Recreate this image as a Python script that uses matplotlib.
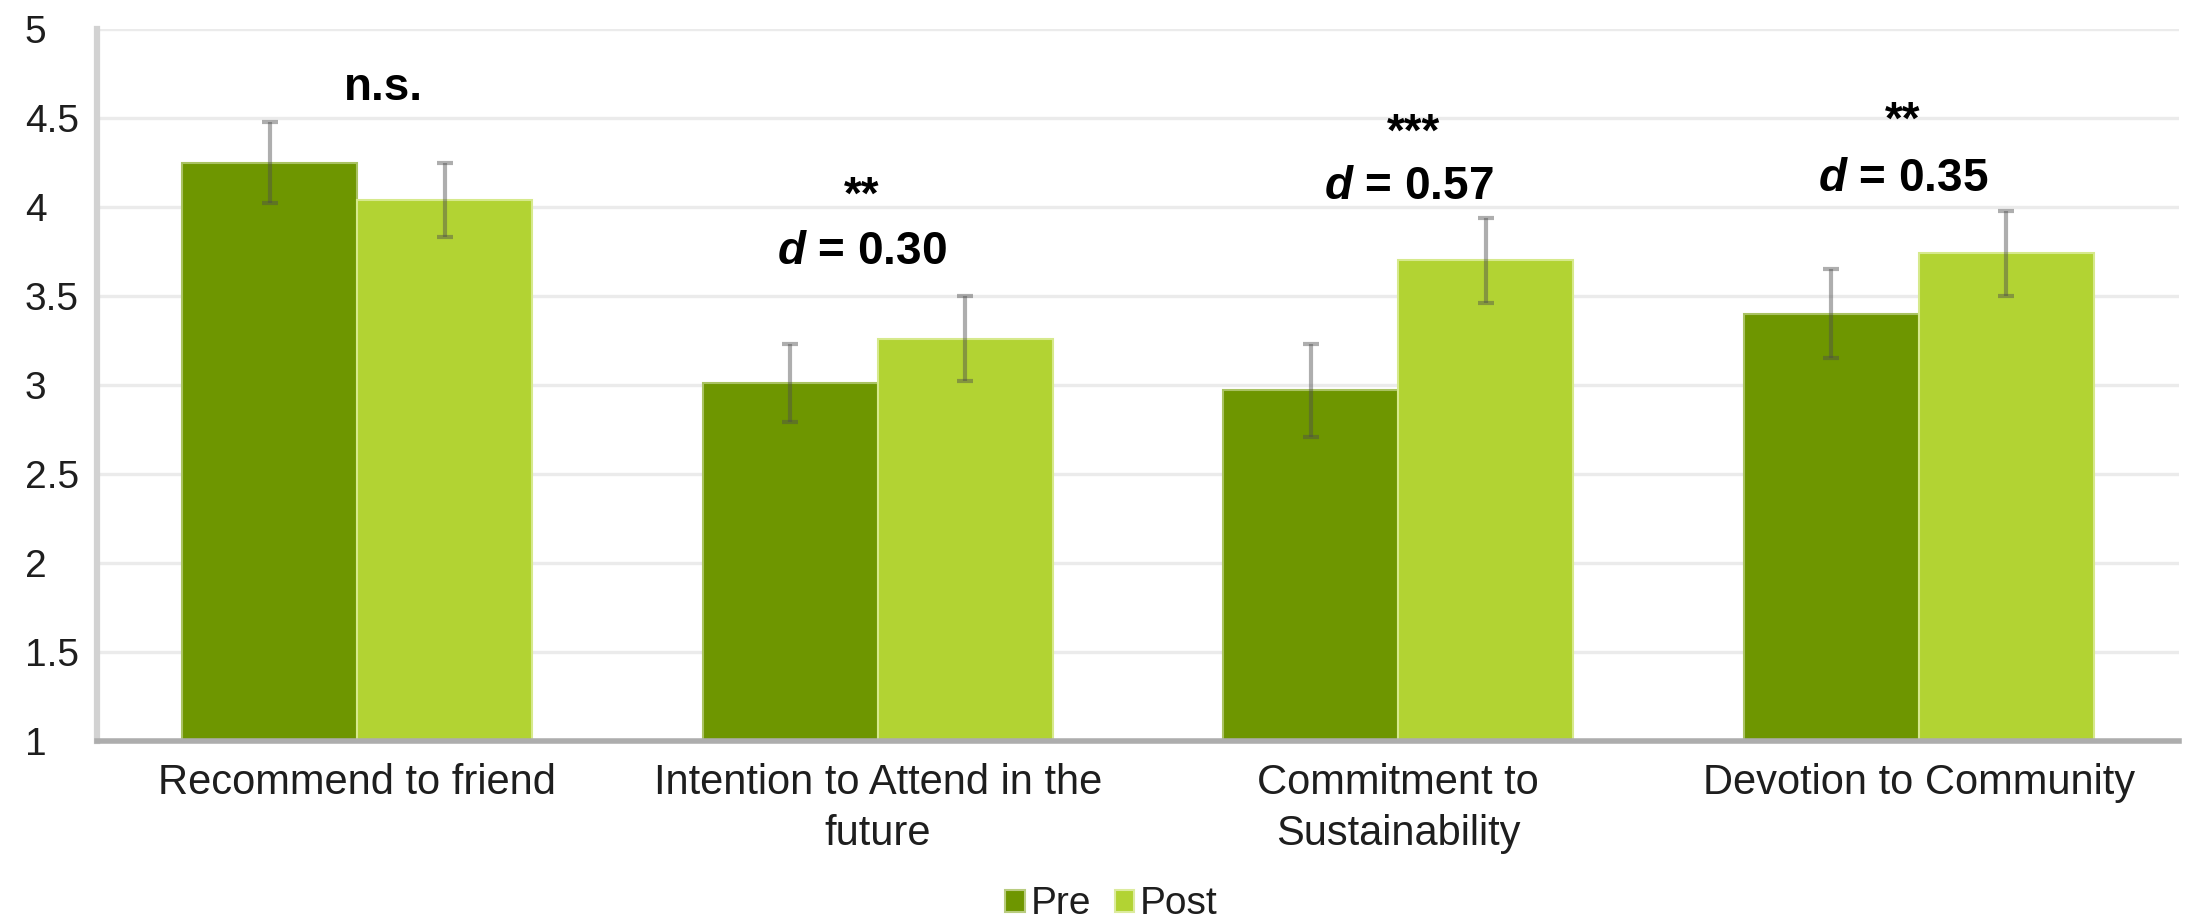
import matplotlib
matplotlib.use("Agg")
import matplotlib.pyplot as plt
from matplotlib.patches import Patch
import numpy as np

categories = ["Recommend to friend", "Intention to Attend in the\nfuture",
              "Commitment to\nSustainability", "Devotion to Community"]
pre = [4.25, 3.01, 2.97, 3.40]
post = [4.04, 3.26, 3.70, 3.74]
pre_err = [0.23, 0.22, 0.26, 0.25]
post_err = [0.21, 0.24, 0.24, 0.24]

# significance stars and effect sizes per category
stars = ["n.s.", "**", "***", "**"]
effects = [None, "0.30", "0.57", "0.35"]

pre_color = "#6E9600"
post_color = "#B2D333"

plt.rcParams["font.family"] = ["Liberation Sans", "DejaVu Sans"]
plt.rcParams["mathtext.fontset"] = "custom"
plt.rcParams["mathtext.bfit"] = "Liberation Sans:italic:bold"
plt.rcParams["mathtext.bf"] = "Liberation Sans:bold"
plt.rcParams["mathtext.rm"] = "Liberation Sans"

fig = plt.figure(figsize=(21.88, 9.22), dpi=100)
ax = fig.add_axes([0.0443, 0.1963, 0.9516, 0.7722])

x = np.arange(len(categories))
w = 0.336

ax.bar(x - w / 2, pre, w, bottom=0, color=pre_color, edgecolor="#A9C262",
       linewidth=1.5, zorder=2)
ax.bar(x + w / 2, post, w, bottom=0, color=post_color, edgecolor="#D6E98C",
       linewidth=1.5, zorder=2)
err_kw = dict(fmt="none", ecolor=(0.3, 0.3, 0.3, 0.45), elinewidth=3,
              capsize=5.5, capthick=3, zorder=3)
ax.errorbar(x - w / 2, pre, yerr=pre_err, **err_kw)
ax.errorbar(x + w / 2, post, yerr=post_err, **err_kw)

ax.set_xlim(-0.5, 3.5)
ax.set_ylim(1, 5)
ax.set_yticks(np.arange(1, 5.01, 0.5))
ax.set_yticklabels(["1", "1.5", "2", "2.5", "3", "3.5", "4", "4.5", "5"])
ax.yaxis.grid(True, color="#EBEBEB", linewidth=2.4, zorder=0)
ax.set_axisbelow(True)
ax.set_xticks(x)
ax.set_xticklabels(categories, linespacing=1.35)

ax.tick_params(axis="y", length=0, pad=52, labelsize=28, labelcolor="#1E1E1E")
ax.tick_params(axis="x", length=0, pad=16, labelsize=30, labelcolor="#1E1E1E")
for lbl in ax.get_yticklabels():
    lbl.set_ha("left")

for s in ["top", "right"]:
    ax.spines[s].set_visible(False)
ax.spines["left"].set_color("#D2D2D2")
ax.spines["left"].set_linewidth(4.5)
ax.spines["bottom"].set_color("#ADADAD")
ax.spines["bottom"].set_linewidth(4)

# annotations above each group
star_pos = [(0.05, 4.67), (0.97, 4.06), (2.03, 4.41), (2.97, 4.48)]
eff_pos = [None, (0.97, 3.75), (2.02, 4.11), (2.97, 4.16)]
for i in range(len(categories)):
    sx, sy = star_pos[i]
    ax.text(sx, sy, stars[i], ha="center", va="center", fontsize=33,
            fontweight="bold", color="black", zorder=4)
    if effects[i] is not None:
        ex, ey = eff_pos[i]
        ax.text(ex, ey, r"$\mathbfit{d}$" + " = " + effects[i], ha="center",
                va="center", fontsize=33, fontweight="bold", color="black",
                zorder=4)

handles = [Patch(facecolor=pre_color, edgecolor="#B9CC80", linewidth=1.5),
           Patch(facecolor=post_color, edgecolor="#DCEB9E", linewidth=1.5)]
fig.legend(handles, ["Pre", "Post"], loc="center", bbox_to_anchor=(0.508, 0.019),
           ncol=2, frameon=False, fontsize=28, handlelength=0.5,
           handleheight=0.5, handletextpad=0.15, columnspacing=0.6,
           labelcolor="#1E1E1E")

fig.savefig("out.png", dpi=100)
